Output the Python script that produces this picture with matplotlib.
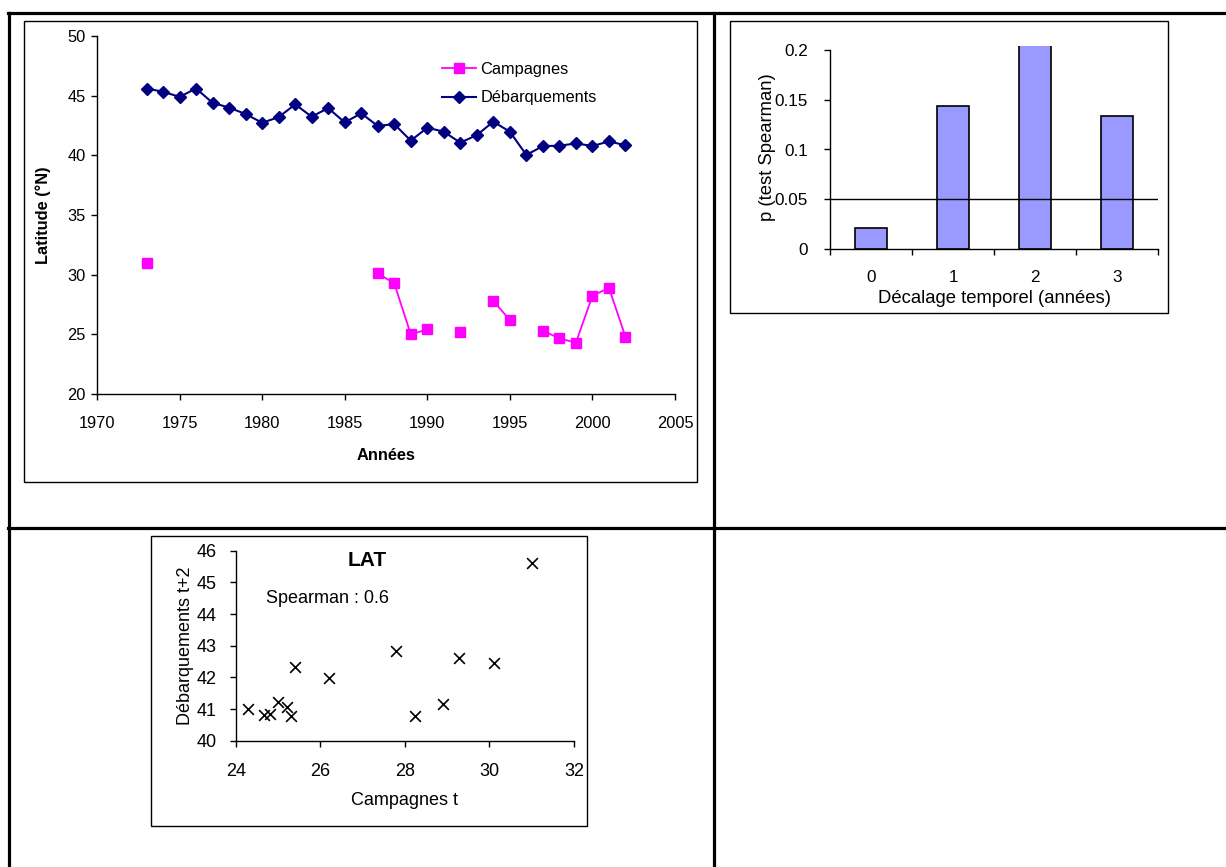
import numpy as np
import matplotlib
matplotlib.use("Agg")
import matplotlib.pyplot as plt
from matplotlib.patches import Rectangle
from matplotlib.lines import Line2D

plt.rcParams['font.family'] = ['Liberation Sans', 'DejaVu Sans']

nan = np.nan

# Années de la série
annees = np.arange(1973, 2003)

# Latitude moyenne des débarquements (°N)
debarquements = [45.6, 45.33, 44.9, 45.6, 44.4, 44.0, 43.46, 42.73, 43.2, 44.27,
                 43.24, 43.96, 42.76, 43.52, 42.46, 42.62, 41.23, 42.32, 41.98, 41.06,
                 41.7, 42.82, 41.98, 40.03, 40.78, 40.8, 41.0, 40.78, 41.17, 40.84]

# Latitude moyenne des campagnes (°N), nan = pas de campagne cette année-là
campagnes = [31.0, nan, nan, nan, nan, nan, nan, nan, nan, nan,
             nan, nan, nan, nan, 30.11, 29.27, 25.0, 25.41, nan, 25.22,
             nan, 27.79, 26.2, nan, 25.3, 24.66, 24.3, 28.23, 28.9, 24.8]

# p du test de Spearman selon le décalage (le 2 dépasse l'échelle)
decalage = [0, 1, 2, 3]
p_spearman = [0.021, 0.144, 0.21, 0.134]
seuil = 0.05

W, H = 1226, 867
fig = plt.figure(figsize=(W / 100, H / 100), dpi=100)


# Axes placés en pixels (x0, y0 en haut à gauche, x1, y1 en bas à droite)
def axes_px(x0, y0, x1, y1):
    return fig.add_axes([x0 / W, 1 - y1 / H, (x1 - x0) / W, (y1 - y0) / H])


def cadre_px(x0, y0, x1, y1, lw=1.0):
    fig.patches.append(Rectangle((x0 / W, 1 - y1 / H), (x1 - x0) / W, (y1 - y0) / H,
                                 transform=fig.transFigure, fill=False,
                                 edgecolor='black', linewidth=lw))


def ligne_px(x0, y0, x1, y1, lw=2.3):
    fig.lines.append(Line2D([x0 / W, x1 / W], [1 - y0 / H, 1 - y1 / H],
                            transform=fig.transFigure, color='black', linewidth=lw))


# Lignes du tableau
ligne_px(8, 13, W, 13)
ligne_px(9, 13, 9, H)
ligne_px(714, 13, 714, H)
ligne_px(8, 528, W, 528)

# Cadres des graphiques
cadre_px(24, 21, 697, 482)
cadre_px(730, 21, 1168, 313)
cadre_px(151, 536, 587, 826)


def style_axes(ax):
    for s in ['top', 'right']:
        ax.spines[s].set_visible(False)
    ax.spines['left'].set_linewidth(1.0)
    ax.spines['bottom'].set_linewidth(1.0)
    ax.tick_params(direction='out', length=4, width=1.0, pad=2)


# 1) Latitude au cours du temps
ax1 = axes_px(97, 36, 675, 394)
ax1.plot(annees, campagnes, color='#FF00FF', marker='s', markersize=7,
         linewidth=1.3, label='Campagnes')
ax1.plot(annees, debarquements, color='#000080', marker='D', markersize=6,
         linewidth=1.5, label='Débarquements')
ax1.set_xlim(1970, 2005)
ax1.set_ylim(20, 50)
ax1.set_xticks(range(1970, 2006, 5))
ax1.set_yticks(range(20, 51, 5))
style_axes(ax1)
ax1.tick_params(labelsize=11.8)
ax1.tick_params(axis='y', pad=4)
ax1.tick_params(axis='x', pad=12)
ax1.set_xlabel('Années', fontsize=11.8, fontweight='bold', labelpad=12)
ax1.set_ylabel('Latitude (°N)', fontsize=11.8, fontweight='bold', labelpad=12)
ax1.legend(loc='upper left', bbox_to_anchor=(442 / W, 1 - 62 / H),
           bbox_transform=fig.transFigure, frameon=False, fontsize=11.8,
           handlelength=2.1, handletextpad=0.25, borderpad=0, borderaxespad=0,
           labelspacing=0.82)

# 2) p du test de Spearman
ax2 = axes_px(830, 45.7, 1158, 249)
ax2.bar(decalage, p_spearman, width=0.4, color='#9999FF', edgecolor='black',
        linewidth=1.2)
ax2.axhline(seuil, color='black', linewidth=1.0)
ax2.set_xlim(-0.5, 3.5)
ax2.set_ylim(0, 0.2 * 203.3 / 199)
ax2.set_yticks([0, 0.05, 0.1, 0.15, 0.2])
ax2.set_yticklabels(['0', '0.05', '0.1', '0.15', '0.2'])
ax2.set_xticks(decalage)
ax2.set_xticks([-0.5, 0.5, 1.5, 2.5, 3.5], minor=True)
style_axes(ax2)
ax2.spines['left'].set_bounds(0, 0.2)
ax2.tick_params(labelsize=12.3)
ax2.tick_params(axis='y', pad=12)
ax2.tick_params(axis='x', which='major', length=0, pad=15)
ax2.tick_params(axis='x', which='minor', direction='out', length=4, width=1.0)
ax2.set_xlabel('Décalage temporel (années)', fontsize=13.3, labelpad=4)
ax2.set_ylabel('p (test Spearman)', fontsize=13.3, labelpad=-1)

# 3) Nuage de points campagnes / débarquements
camp = np.array(campagnes)
deb = np.array(debarquements)
ok = ~np.isnan(camp)
ax3 = axes_px(235.7, 550.7, 574, 740.7)
ax3.scatter(camp[ok], deb[ok], marker='x', color='black', s=60, linewidths=1.2)
ax3.set_xlim(24, 32)
ax3.set_ylim(40, 46)
ax3.set_xticks(range(24, 33, 2))
ax3.set_yticks(range(40, 47))
style_axes(ax3)
ax3.tick_params(labelsize=13)
ax3.tick_params(axis='y', pad=10)
ax3.tick_params(axis='x', pad=12)
ax3.set_xlabel('Campagnes t', fontsize=13, labelpad=9)
ax3.set_ylabel('Débarquements t+2', fontsize=13, labelpad=1.5)
ax3.text(0.39, 0.95, 'LAT', transform=ax3.transAxes, ha='center', va='center',
         fontsize=15, fontweight='bold')
ax3.text(0.09, 0.75, 'Spearman : 0.6', transform=ax3.transAxes, ha='left',
         va='center', fontsize=13)

fig.savefig('out.png', dpi=100)
